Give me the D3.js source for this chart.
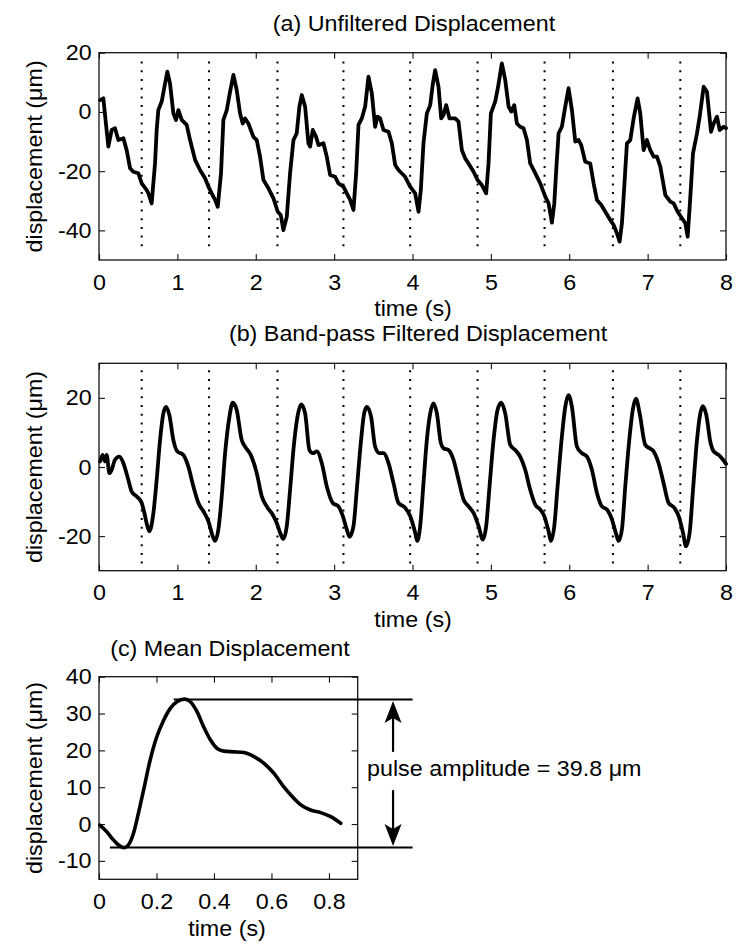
<!DOCTYPE html>
<html>
<head>
<meta charset="utf-8">
<script src="https://cdn.jsdelivr.net/npm/d3@7/dist/d3.min.js"></script>
<style>
  html, body { margin: 0; padding: 0; background: #fff; }
  svg { display: block; }
  text { font-family: "Liberation Sans", Arial, Helvetica, sans-serif; fill: #000; }
</style>
</head>
<body>
<svg id="chart" width="750" height="951"></svg>
<script>
// ---------- DATA ----------
const titles = ["(a) Unfiltered Displacement", "(b) Band-pass Filtered Displacement", "(c) Mean Displacement"];
const xLabel = "time (s)";
const yLabel = "displacement (\u03bcm)";
const pulseLabel = "pulse amplitude = 39.8 \u03bcm";

const xTicksAB = [0, 1, 2, 3, 4, 5, 6, 7, 8];
const yTicksA = [-40, -20, 0, 20];
const yTicksB = [-20, 0, 20];
const xTicksC = [0, 0.2, 0.4, 0.6, 0.8];
const xTickLabelsC = ["0", "0.2", "0.4", "0.6", "0.8"];
const yTicksC = [-10, 0, 10, 20, 30, 40];

// dotted markers (beat onsets), seconds
const markerTimes = [0.545, 1.404, 2.277, 3.119, 3.970, 4.830, 5.685, 6.557, 7.417];

// (a) unfiltered displacement
const aTime = [0.013,0.055,0.119,0.162,0.204,0.247,0.311,0.353,0.396,0.438,0.502,0.545,0.609,0.630,0.672,0.715,0.736,0.757,0.800,0.843,0.872,0.906,0.949,0.983,1.013,1.055,1.119,1.162,1.226,1.289,1.353,1.396,1.438,1.481,1.515,1.557,1.587,1.630,1.672,1.715,1.757,1.800,1.834,1.864,1.906,1.970,2.013,2.055,2.098,2.162,2.226,2.281,2.319,2.353,2.396,2.438,2.481,2.523,2.557,2.587,2.630,2.672,2.694,2.728,2.770,2.800,2.864,2.906,2.949,3.013,3.055,3.119,3.162,3.204,3.247,3.281,3.311,3.353,3.396,3.438,3.481,3.523,3.553,3.587,3.630,3.694,3.736,3.779,3.821,3.906,3.970,4.034,4.077,4.106,4.140,4.183,4.226,4.260,4.289,4.332,4.366,4.396,4.430,4.472,4.545,4.587,4.630,4.672,4.715,4.779,4.830,4.885,4.940,4.970,5.000,5.055,5.089,5.140,5.183,5.226,5.260,5.298,5.332,5.374,5.417,5.460,5.502,5.566,5.630,5.694,5.736,5.779,5.809,5.834,5.864,5.906,5.949,5.991,6.034,6.077,6.119,6.153,6.204,6.268,6.311,6.353,6.409,6.460,6.523,6.566,6.609,6.643,6.672,6.702,6.736,6.779,6.821,6.872,6.906,6.949,6.991,7.034,7.077,7.119,7.162,7.226,7.289,7.332,7.383,7.438,7.481,7.511,7.545,7.579,7.630,7.664,7.715,7.757,7.809,7.843,7.885,7.919,7.970,8.000];
const aDisp = [4.0,4.6,-11.7,-6.1,-5.5,-9.5,-8.9,-12.9,-19.0,-20.2,-20.7,-24.1,-26.4,-27.5,-30.9,-17.4,-6.1,0.6,3.5,9.6,13.6,9.6,-0.5,-2.7,0.6,-2.7,-4.4,-9.5,-16.2,-19.6,-22.4,-25.2,-27.5,-29.7,-32.0,-20.7,-2.7,0.6,6.8,12.5,7.4,-0.5,-3.9,-2.2,-3.9,-8.4,-9.5,-15.1,-23.0,-25.8,-29.2,-33.7,-34.8,-39.9,-35.4,-20.7,-9.5,-7.2,1.8,5.7,1.8,-10.6,-11.7,-6.1,-8.4,-11.2,-10.6,-15.1,-21.3,-21.9,-24.1,-25.2,-27.5,-29.7,-33.1,-20.7,-4.4,-2.2,1.8,11.9,6.3,-5.0,-1.6,-2.2,-6.1,-6.7,-10.6,-17.9,-19.6,-21.9,-25.2,-27.5,-33.7,-26.4,-10.6,-0.5,2.3,9.6,14.1,8.5,-2.2,-1.0,2.3,-2.2,-2.2,-3.3,-12.9,-15.7,-17.4,-20.2,-23.0,-24.7,-27.5,-17.4,-0.5,3.5,8.0,16.4,10.8,1.8,0.1,2.3,-3.9,-5.0,-5.5,-9.5,-17.4,-20.7,-24.1,-28.6,-30.9,-37.4,-30.9,-19.6,-7.2,-5.0,1.8,8.0,0.6,-10.0,-9.5,-11.2,-16.8,-17.4,-24.1,-29.7,-31.4,-33.7,-36.5,-38.2,-41.0,-43.8,-37.6,-25.2,-10.6,-9.5,-2.2,4.6,-0.5,-12.9,-9.5,-12.9,-15.1,-15.1,-18.5,-28.1,-30.3,-30.9,-33.7,-35.9,-37.6,-42.1,-28.6,-14.0,-7.2,-1.6,8.5,6.8,-6.7,-3.9,-1.6,-6.1,-5.0,-5.5];

// (b) band-pass filtered displacement
const bTime = [0.013,0.047,0.077,0.098,0.132,0.162,0.204,0.260,0.311,0.374,0.417,0.481,0.545,0.579,0.617,0.643,0.694,0.736,0.779,0.821,0.855,0.898,0.949,1.000,1.077,1.140,1.204,1.268,1.332,1.396,1.451,1.481,1.523,1.566,1.609,1.664,1.706,1.757,1.821,1.864,1.936,2.013,2.077,2.140,2.217,2.268,2.319,2.353,2.396,2.438,2.489,2.545,2.579,2.630,2.685,2.728,2.779,2.843,2.906,2.983,3.055,3.111,3.162,3.196,3.247,3.289,3.340,3.383,3.417,3.472,3.523,3.579,3.630,3.694,3.757,3.821,3.906,3.970,4.034,4.060,4.098,4.140,4.183,4.226,4.268,4.311,4.362,4.396,4.460,4.523,4.587,4.651,4.715,4.779,4.843,4.898,4.940,4.983,5.034,5.085,5.132,5.183,5.247,5.311,5.374,5.438,5.502,5.566,5.630,5.681,5.736,5.766,5.809,5.851,5.906,5.949,5.991,6.034,6.098,6.162,6.226,6.289,6.353,6.417,6.481,6.545,6.600,6.630,6.672,6.715,6.770,6.813,6.851,6.898,6.970,7.026,7.077,7.140,7.204,7.268,7.340,7.396,7.451,7.489,7.536,7.579,7.630,7.672,7.706,7.749,7.800,7.843,7.906,7.962,8.000];
const bDisp = [1.6,3.5,1.6,3.5,-1.8,-0.8,2.1,3.0,1.1,-3.7,-7.1,-8.5,-10.4,-13.3,-17.1,-18.6,-13.3,-3.7,7.8,15.5,17.4,15.0,7.8,4.5,3.5,0.1,-5.6,-10.4,-12.8,-15.7,-20.0,-21.4,-18.1,-8.5,4.0,14.5,18.6,16.5,7.8,5.9,3.5,-1.8,-8.5,-11.4,-13.8,-16.2,-19.5,-20.8,-17.1,-6.6,6.9,16.0,18.1,15.5,4.9,4.0,4.5,1.1,-5.6,-10.4,-11.4,-14.2,-18.1,-20.2,-17.1,-6.6,6.9,15.5,17.4,14.5,5.9,4.0,4.0,1.1,-4.6,-10.4,-11.8,-14.2,-19.0,-21.4,-17.1,-4.7,7.8,15.5,18.4,15.5,6.9,5.4,4.9,2.1,-3.7,-9.4,-11.4,-13.3,-17.1,-21.0,-17.1,-5.6,7.8,16.5,18.6,15.5,6.4,4.9,3.0,-0.8,-6.6,-10.9,-12.3,-14.2,-18.6,-21.4,-17.1,-5.6,8.8,17.4,20.8,17.4,5.9,4.0,3.0,-0.8,-7.5,-11.4,-12.3,-15.2,-19.5,-21.4,-18.1,-5.6,8.8,16.9,19.8,15.5,6.4,5.4,4.5,1.1,-4.7,-10.4,-11.8,-14.2,-19.0,-22.9,-19.0,-6.6,7.8,15.5,17.6,15.0,7.3,4.5,3.5,2.1,0.9];

// (c) mean displacement over one beat
const cTime = [0.003,0.027,0.050,0.073,0.087,0.102,0.120,0.137,0.155,0.178,0.201,0.225,0.248,0.271,0.298,0.318,0.341,0.364,0.388,0.411,0.434,0.469,0.504,0.539,0.574,0.608,0.643,0.673,0.702,0.736,0.771,0.806,0.841];
const cDisp = [-0.3,-2.1,-4.3,-6.0,-6.4,-5.7,-2.5,2.9,9.2,17.4,23.7,28.2,31.4,33.2,33.9,33.2,30.5,26.4,22.8,20.5,19.8,19.6,19.4,18.3,16.5,13.8,10.1,7.4,5.2,3.8,3.1,2.0,0.2];

// pulse amplitude guide lines (value, start time, end time) and arrow position
const pulseMax = 33.8, pulseMin = -6.4;
const pulseMaxStart = 0.26, pulseMinStart = 0.038, pulseLineEnd = 1.091;
const arrowTime = 1.023;
const arrowUpFrom = 19.6, arrowDownFrom = 9.2;

// ---------- LAYOUT ----------
const svg = d3.select("#chart");
const FS = 22, SX = 1.06;
const FONT = '"Liberation Sans", Arial, sans-serif';
const panels = [
  { l: 99, r: 726, t: 52.7, b: 260, xd: [0, 8], yd: [-50, 20] },
  { l: 99, r: 726, t: 363.3, b: 570.7, xd: [0, 8], yd: [-30, 30] },
  { l: 99, r: 357.7, t: 676.7, b: 879.3, xd: [0, 0.9], yd: [-15, 40] }
];
panels.forEach(p => {
  p.x = d3.scaleLinear().domain(p.xd).range([p.l, p.r]);
  p.y = d3.scaleLinear().domain(p.yd).range([p.b, p.t]);
});

function label(txt, x, y, anchor, rotate) {
  return svg.append("text")
    .attr("transform", `translate(${x},${y})` + (rotate ? " rotate(-90)" : "") + ` scale(${SX},1)`)
    .attr("text-anchor", anchor)
    .style("font-size", FS + "px")
    .text(txt);
}

const plain = d => String(d); // hyphen-minus like the original

function drawAxes(p, xt, yt, xfmt) {
  const g = svg.append("g");
  const styleAxis = sel => {
    sel.selectAll("path.domain").remove();
    sel.selectAll("line").attr("stroke", "#111").attr("stroke-width", 1.1);
  };
  const styleText = sel => sel.selectAll("text").attr("fill", "#000")
    .style("font-size", FS + "px").style("font-family", FONT)
    .attr("transform", `scale(${SX},1)`);
  g.append("g").attr("transform", `translate(0,${p.b})`)
    .call(d3.axisBottom(p.x).tickValues(xt).tickSizeInner(-6).tickSizeOuter(0).tickPadding(14)
      .tickFormat((d, i) => xfmt ? xfmt[i] : plain(d)))
    .call(styleAxis).call(styleText);
  g.append("g").attr("transform", `translate(0,${p.t})`)
    .call(d3.axisTop(p.x).tickValues(xt).tickSizeInner(-6).tickSizeOuter(0).tickFormat(""))
    .call(styleAxis);
  g.append("g").attr("transform", `translate(${p.l},0)`)
    .call(d3.axisLeft(p.y).tickValues(yt).tickSizeInner(-6).tickSizeOuter(0).tickPadding(7).tickFormat(plain))
    .call(styleAxis).call(styleText);
  g.append("g").attr("transform", `translate(${p.r},0)`)
    .call(d3.axisRight(p.y).tickValues(yt).tickSizeInner(-6).tickSizeOuter(0).tickFormat(""))
    .call(styleAxis);
  g.append("rect").attr("x", p.l).attr("y", p.t).attr("width", p.r - p.l).attr("height", p.b - p.t)
    .attr("fill", "none").attr("stroke", "#111").attr("stroke-width", 1.3);
}

function drawMarkers(p, lo, hi) {
  svg.append("g").selectAll("line").data(markerTimes).join("line")
    .attr("x1", d => p.x(d)).attr("x2", d => p.x(d))
    .attr("y1", p.y(hi)).attr("y2", p.y(lo))
    .attr("stroke", "#000").attr("stroke-width", 2)
    .attr("stroke-dasharray", "2,6.7");
}

function drawCurve(p, xs, ys, curve, width) {
  const pts = xs.map((t, i) => [t, ys[i]]);
  svg.append("path").datum(pts)
    .attr("d", d3.line().x(d => p.x(d[0])).y(d => p.y(d[1])).curve(curve))
    .attr("fill", "none").attr("stroke", "#000").attr("stroke-width", width)
    .attr("stroke-linejoin", "round").attr("stroke-linecap", "round");
}

// ---------- PANEL A ----------
const A = panels[0];
drawMarkers(A, -47, 17);
drawCurve(A, aTime, aDisp, d3.curveLinear, 3.8);
drawAxes(A, xTicksAB, yTicksA);
label(titles[0], 414, 31, "middle");
label(xLabel, 413, 316, "middle");
label(yLabel, 42, (A.t + A.b) / 2, "middle", true);

// ---------- PANEL B ----------
const B = panels[1];
drawMarkers(B, -28, 28);
drawCurve(B, bTime, bDisp, d3.curveMonotoneX, 3.8);
drawAxes(B, xTicksAB, yTicksB);
label(titles[1], 418, 341, "middle");
label(xLabel, 413, 627, "middle");
label(yLabel, 42, (B.t + B.b) / 2, "middle", true);

// ---------- PANEL C ----------
const C = panels[2];
drawAxes(C, xTicksC, yTicksC, xTickLabelsC);
drawCurve(C, cTime, cDisp, d3.curveMonotoneX, 3.6);
label(titles[2], 230, 656, "middle");
label(xLabel, 227, 936, "middle");
label(yLabel, 42, (C.t + C.b) / 2, "middle", true);

// pulse amplitude guides
svg.append("line").attr("x1", C.x(pulseMaxStart)).attr("x2", C.x(pulseLineEnd))
  .attr("y1", C.y(pulseMax)).attr("y2", C.y(pulseMax)).attr("stroke", "#000").attr("stroke-width", 2);
svg.append("line").attr("x1", C.x(pulseMinStart)).attr("x2", C.x(pulseLineEnd))
  .attr("y1", C.y(pulseMin)).attr("y2", C.y(pulseMin)).attr("stroke", "#000").attr("stroke-width", 2);

const ax = C.x(arrowTime);
function arrow(fromV, toV) {
  const y0 = C.y(fromV), y1 = C.y(toV);
  const dir = y1 < y0 ? -1 : 1; // -1: pointing up
  const tipY = y1 - dir * 1.5;
  svg.append("line").attr("x1", ax).attr("x2", ax).attr("y1", y0).attr("y2", tipY - dir * 16)
    .attr("stroke", "#000").attr("stroke-width", 2.2);
  const path = d3.path();
  path.moveTo(ax, tipY);
  path.lineTo(ax - 8.5, tipY - dir * 22);
  path.lineTo(ax, tipY - dir * 17);
  path.lineTo(ax + 8.5, tipY - dir * 22);
  path.closePath();
  svg.append("path").attr("d", path.toString()).attr("fill", "#000");
}
arrow(arrowUpFrom, pulseMax);
arrow(arrowDownFrom, pulseMin);
label(pulseLabel, 367, 776, "start");
</script>
</body>
</html>
